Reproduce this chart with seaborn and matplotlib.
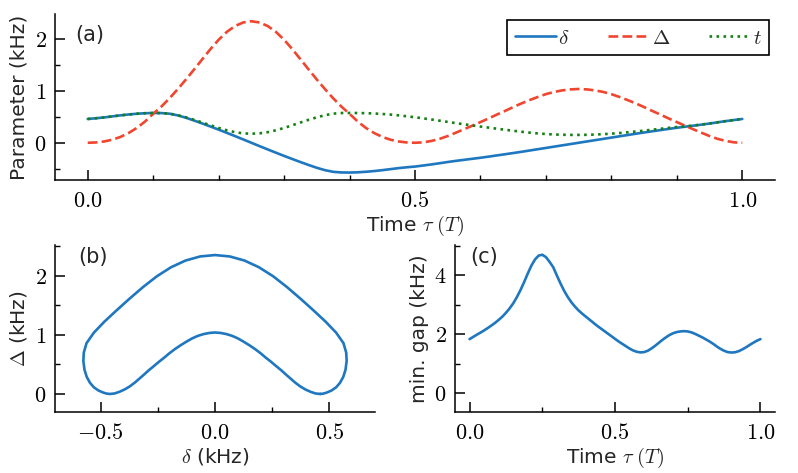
import matplotlib
matplotlib.use("Agg")
import matplotlib.pyplot as plt
import seaborn as sns
from matplotlib.ticker import MultipleLocator, FuncFormatter

# ---- data ----
tau = [0.0000, 0.0125, 0.0250, 0.0375, 0.0500, 0.0625, 0.0750, 0.0875, 0.1000, 0.1125,
       0.1250, 0.1375, 0.1500, 0.1625, 0.1750, 0.1875, 0.2000, 0.2125, 0.2250, 0.2375,
       0.2500, 0.2625, 0.2750, 0.2875, 0.3000, 0.3125, 0.3250, 0.3375, 0.3500, 0.3625,
       0.3750, 0.3875, 0.4000, 0.4125, 0.4250, 0.4375, 0.4500, 0.4625, 0.4750, 0.4875,
       0.5000, 0.5125, 0.5250, 0.5375, 0.5500, 0.5625, 0.5750, 0.5875, 0.6000, 0.6125,
       0.6250, 0.6375, 0.6500, 0.6625, 0.6750, 0.6875, 0.7000, 0.7125, 0.7250, 0.7375,
       0.7500, 0.7625, 0.7750, 0.7875, 0.8000, 0.8125, 0.8250, 0.8375, 0.8500, 0.8625,
       0.8750, 0.8875, 0.9000, 0.9125, 0.9250, 0.9375, 0.9500, 0.9625, 0.9750, 0.9875,
       1.0000]

delta = [0.460, 0.474, 0.490, 0.510, 0.530, 0.547, 0.561, 0.571, 0.576, 0.574,
         0.562, 0.530, 0.484, 0.430, 0.373, 0.314, 0.254, 0.192, 0.129, 0.065,
         0.000, -0.065, -0.129, -0.192, -0.254, -0.314, -0.373, -0.430, -0.484, -0.530,
         -0.562, -0.574, -0.576, -0.571, -0.561, -0.547, -0.530, -0.510, -0.490, -0.474,
         -0.460, -0.440, -0.419, -0.396, -0.372, -0.350, -0.330, -0.310, -0.290, -0.268,
         -0.245, -0.222, -0.199, -0.175, -0.150, -0.125, -0.100, -0.075, -0.050, -0.025,
         0.000, 0.025, 0.050, 0.075, 0.100, 0.125, 0.150, 0.175, 0.199, 0.222,
         0.245, 0.268, 0.290, 0.310, 0.330, 0.350, 0.372, 0.396, 0.419, 0.440,
         0.460]

Delta = [0.000, 0.006, 0.025, 0.059, 0.113, 0.189, 0.287, 0.410, 0.560, 0.700,
         0.860, 1.037, 1.223, 1.417, 1.615, 1.811, 1.992, 2.144, 2.257, 2.326,
         2.350, 2.326, 2.257, 2.144, 1.992, 1.811, 1.615, 1.417, 1.223, 1.037,
         0.860, 0.700, 0.560, 0.410, 0.287, 0.189, 0.113, 0.059, 0.025, 0.006,
         0.000, 0.008, 0.035, 0.075, 0.130, 0.195, 0.262, 0.330, 0.400, 0.470,
         0.545, 0.615, 0.690, 0.760, 0.825, 0.885, 0.940, 0.983, 1.013, 1.032,
         1.040, 1.032, 1.013, 0.983, 0.940, 0.885, 0.825, 0.760, 0.690, 0.615,
         0.545, 0.470, 0.400, 0.330, 0.262, 0.195, 0.130, 0.075, 0.035, 0.008,
         0.000]

t_coup = [0.460, 0.474, 0.490, 0.510, 0.530, 0.547, 0.561, 0.571, 0.576, 0.574,
          0.563, 0.533, 0.492, 0.444, 0.392, 0.338, 0.287, 0.241, 0.205, 0.182,
          0.175, 0.182, 0.205, 0.241, 0.287, 0.338, 0.392, 0.444, 0.492, 0.533,
          0.563, 0.575, 0.577, 0.575, 0.572, 0.566, 0.557, 0.545, 0.530, 0.512,
          0.493, 0.472, 0.450, 0.427, 0.403, 0.380, 0.357, 0.335, 0.313, 0.293,
          0.272, 0.252, 0.232, 0.213, 0.196, 0.181, 0.169, 0.160, 0.155, 0.152,
          0.152, 0.154, 0.159, 0.166, 0.176, 0.188, 0.202, 0.218, 0.235, 0.252,
          0.270, 0.288, 0.305, 0.315, 0.333, 0.352, 0.373, 0.396, 0.419, 0.440,
          0.460]

min_gap = [1.840, 1.915, 1.990, 2.060, 2.135, 2.215, 2.300, 2.390, 2.490, 2.600,
           2.730, 2.880, 3.050, 3.260, 3.500, 3.770, 4.060, 4.330, 4.540, 4.670,
           4.700, 4.620, 4.460, 4.280, 4.000, 3.730, 3.480, 3.270, 3.090, 2.940,
           2.810, 2.700, 2.600, 2.500, 2.400, 2.300, 2.210, 2.120, 2.030, 1.940,
           1.850, 1.760, 1.680, 1.600, 1.520, 1.455, 1.410, 1.390, 1.400, 1.445,
           1.520, 1.610, 1.710, 1.810, 1.900, 1.980, 2.040, 2.080, 2.100, 2.110,
           2.100, 2.070, 2.020, 1.960, 1.900, 1.830, 1.760, 1.680, 1.590, 1.510,
           1.445, 1.400, 1.385, 1.395, 1.430, 1.490, 1.560, 1.640, 1.715, 1.785,
           1.840]

series_labels = [r"$\delta$", r"$\Delta$", r"$t$"]
panel_labels = ["(a)", "(b)", "(c)"]

# ---- style ----
sns.set_style("ticks")
plt.rcParams.update({
    "font.family": ["DejaVu Sans"],
    "mathtext.fontset": "cm",
    "font.size": 14,
    "axes.linewidth": 1.1,
    "xtick.direction": "in",
    "ytick.direction": "in",
    "xtick.major.size": 7.0,
    "ytick.major.size": 7.0,
    "xtick.minor.size": 3.6,
    "ytick.minor.size": 3.6,
    "xtick.major.width": 1.1,
    "ytick.major.width": 1.1,
    "xtick.minor.width": 1.0,
    "ytick.minor.width": 1.0,
    "xtick.major.pad": 8,
    "ytick.major.pad": 6,
    "xtick.labelsize": 16,
    "ytick.labelsize": 16,
    "axes.labelsize": 14.5,
    "xtick.color": "black",
    "ytick.color": "black",
    "axes.edgecolor": "black",
})

BLUE = "#1f77c0"
RED = "#f0452e"
GREEN = "#138213"
LW = 1.9

fig = plt.figure(figsize=(7.98, 4.73), dpi=100)
ax_a = fig.add_axes([55 / 798, 1 - 180 / 473, 720 / 798, 166 / 473])
ax_b = fig.add_axes([55 / 798, 1 - 411.7 / 473, 320 / 798, 166.7 / 473])
ax_c = fig.add_axes([455 / 798, 1 - 411.7 / 473, 320 / 798, 166.7 / 473])

fmt1 = FuncFormatter(lambda v, p: f"${v:.1f}$")
fmt0 = FuncFormatter(lambda v, p: f"${v:.0f}$")

# ---- panel (a) ----
sns.lineplot(x=tau, y=delta, ax=ax_a, color=BLUE, lw=LW, label=series_labels[0])
sns.lineplot(x=tau, y=Delta, ax=ax_a, color=RED, lw=LW, linestyle="--",
             label=series_labels[1])
sns.lineplot(x=tau, y=t_coup, ax=ax_a, color=GREEN, lw=LW, linestyle=":",
             label=series_labels[2])
ax_a.set_xlim(-0.05, 1.05)
ax_a.set_ylim(-0.72, 2.49)
ax_a.xaxis.set_major_locator(MultipleLocator(0.5))
ax_a.xaxis.set_minor_locator(MultipleLocator(0.1))
ax_a.yaxis.set_major_locator(MultipleLocator(1))
ax_a.yaxis.set_minor_locator(MultipleLocator(0.5))
ax_a.xaxis.set_major_formatter(fmt1)
ax_a.yaxis.set_major_formatter(fmt0)
ax_a.set_xlabel(r"Time $\tau\ (T)$", labelpad=2)
ax_a.set_ylabel("Parameter (kHz)", labelpad=4)
leg = ax_a.legend(ncol=3, loc="upper right", frameon=True, fancybox=False,
                  edgecolor="black", framealpha=1, handlelength=2.0,
                  columnspacing=1.85, borderaxespad=0.3, fontsize=15,
                  handletextpad=0.1, borderpad=0.35)
leg.get_frame().set_linewidth(1.2)

# ---- panel (b) ----
sns.lineplot(x=delta, y=Delta, ax=ax_b, color=BLUE, lw=LW, sort=False,
             estimator=None)
ax_b.set_xlim(-0.7, 0.7)
ax_b.set_ylim(-0.3, 2.52)
ax_b.xaxis.set_major_locator(MultipleLocator(0.5))
ax_b.xaxis.set_minor_locator(MultipleLocator(0.25))
ax_b.yaxis.set_major_locator(MultipleLocator(1))
ax_b.yaxis.set_minor_locator(MultipleLocator(0.5))
ax_b.xaxis.set_major_formatter(fmt1)
ax_b.yaxis.set_major_formatter(fmt0)
ax_b.set_xlabel(r"$\delta$ (kHz)", labelpad=2)
ax_b.set_ylabel(r"$\Delta$ (kHz)", labelpad=4)

# ---- panel (c) ----
sns.lineplot(x=tau, y=min_gap, ax=ax_c, color=BLUE, lw=LW)
ax_c.set_xlim(-0.05, 1.05)
ax_c.set_ylim(-0.62, 5.03)
ax_c.xaxis.set_major_locator(MultipleLocator(0.5))
ax_c.xaxis.set_minor_locator(MultipleLocator(0.25))
ax_c.yaxis.set_major_locator(MultipleLocator(2))
ax_c.yaxis.set_minor_locator(MultipleLocator(1))
ax_c.xaxis.set_major_formatter(fmt1)
ax_c.yaxis.set_major_formatter(fmt0)
ax_c.set_xlabel(r"Time $\tau\ (T)$", labelpad=2)
ax_c.set_ylabel("min. gap (kHz)", labelpad=4)

for ax in (ax_a, ax_b, ax_c):
    sns.despine(ax=ax)

ax_a.text(0.028, 0.935, panel_labels[0], transform=ax_a.transAxes,
          ha="left", va="top", fontsize=15)
ax_b.text(0.072, 0.99, panel_labels[1], transform=ax_b.transAxes,
          ha="left", va="top", fontsize=15)
ax_c.text(0.047, 0.99, panel_labels[2], transform=ax_c.transAxes,
          ha="left", va="top", fontsize=15)

fig.savefig("out.png", dpi=100)
